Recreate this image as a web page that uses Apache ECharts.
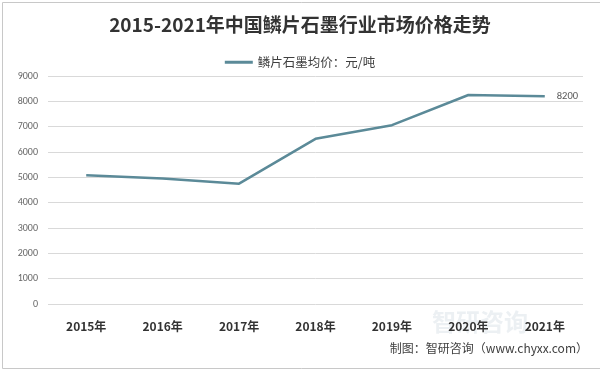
<!DOCTYPE html>
<html><head><meta charset="utf-8">
<script src="https://cdn.jsdelivr.net/npm/echarts@6/dist/echarts.min.js"></script>
<style>html,body{margin:0;padding:0;background:#fff}#c{width:600px;height:370px}</style>
</head><body><div id="c"></div>
<script>
const categories = ['2015年','2016年','2017年','2018年','2019年','2020年','2021年'];
const prices = [5080, 4950, 4750, 6520, 7060, 8250, 8200];
const yTicks = [0,1000,2000,3000,4000,5000,6000,7000,8000,9000];
const seriesName = '鳞片石墨均价：元/吨';

const chart = echarts.init(document.getElementById('c'));
chart.setOption({
  animation: false,
  backgroundColor: '#fff',
  title: {
    text: '2015-2021年中国鳞片石墨行业市场价格走势',
    left: 'center', top: 10,
    textStyle: {fontFamily: 'Noto Sans CJK SC', fontSize: 19, fontWeight: 'bold', color: '#333'}
  },
  legend: {
    top: 51, left: 'center', data: [seriesName],
    icon: 'rect', itemWidth: 28, itemHeight: 3, itemGap: 2,
    textStyle: {fontFamily: 'Noto Sans CJK SC', fontSize: 12.5, color: '#404040'}
  },
  grid: {left: 48, right: 17, top: 76, bottom: 66},
  xAxis: {
    type: 'category', data: categories, boundaryGap: true,
    axisLine: {show: false}, axisTick: {show: false},
    axisLabel: {fontFamily: 'Noto Sans CJK SC', fontSize: 12, fontWeight: 'bold', color: '#333', margin: 16}
  },
  yAxis: {
    type: 'value', min: yTicks[0], max: yTicks[yTicks.length-1], interval: 1000,
    axisLine: {show: false}, axisTick: {show: false},
    splitLine: {lineStyle: {color: '#d9d9d9'}},
    axisLabel: {formatter: v => String(v), fontFamily: 'Calibri, Liberation Sans, sans-serif', fontSize: 10, color: '#666', margin: 10}
  },
  graphic: [
    {type: 'text', right: 12, top: 342, style: {text: '制图：智研咨询（www.chyxx.com）', font: '12px "Noto Sans CJK SC"', fill: '#404040'}},
    {type: 'rect', left: 0, top: 0, shape: {width: 599, height: 366}, style: {fill: 'none', stroke: '#c8c8c8', lineWidth: 1}, silent: true},
    {type: 'text', left: 432, top: 310, style: {text: '智研咨询', font: 'bold 24px "Noto Sans CJK SC"', fill: 'rgba(120,150,170,0.14)'}, silent: true}
  ],
  series: [{
    name: seriesName, type: 'line', data: prices,
    symbol: 'none', lineStyle: {color: '#5b8a98', width: 2.5}, itemStyle: {color: '#5b8a98'},
    endLabel: {show: true, distance: 12, formatter: p => String(p.value),
      fontSize: 10.5, color: '#595959', fontFamily: 'Calibri, Liberation Sans, sans-serif'}
  }]
});
</script></body></html>
